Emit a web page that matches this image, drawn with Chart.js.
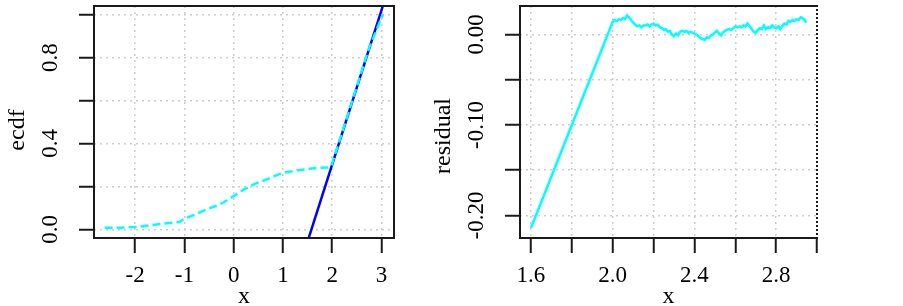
<!DOCTYPE html>
<html>
<head>
<meta charset="utf-8">
<script src="https://cdn.jsdelivr.net/npm/chart.js@4.4.1/dist/chart.umd.min.js"></script>
<style>
  html, body { margin: 0; padding: 0; background: #fff; }
  #wrap { position: relative; width: 903px; height: 306px; overflow: hidden; }
  #left { position: absolute; left: 0; top: 0; }
  #right { position: absolute; left: 420px; top: 0; }
</style>
</head>
<body>
<div id="wrap">
  <canvas id="left" width="420" height="306"></canvas>
  <canvas id="right" width="483" height="306"></canvas>
</div>
<script>
// Left panel: empirical cdf (dashed cyan) and reference cdf (blue)
var ecdfX = [-2.62, -2.3, -2.0, -1.6, -1.3, -1.1, -1.0, -0.8, -0.55, -0.35, -0.22, 0.0, 0.2, 0.43, 0.66, 0.85, 1.0, 1.25, 1.54, 1.75, 1.95, 1.99, 2.25, 2.5, 2.75, 3.03];
var ecdfY = [0.008, 0.008, 0.011, 0.022, 0.03, 0.034, 0.05, 0.068, 0.093, 0.11, 0.124, 0.155, 0.185, 0.212, 0.232, 0.25, 0.263, 0.273, 0.282, 0.287, 0.289, 0.30, 0.485, 0.665, 0.845, 1.0];
var refX = [1.5, 3.1];
var refY = [-0.057, 1.091];
var leftXTicks = [-2, -1, 0, 1, 2, 3];
var leftXLabels = ['-2', '-1', '0', '1', '2', '3'];
var leftYTicks = [0, 0.2, 0.4, 0.6, 0.8, 1.0];
var leftYLabels = ['0.0', '', '0.4', '', '0.8', ''];

// Right panel: residual
var residX = [1.60, 2.00, 2.01, 2.02, 2.03, 2.04, 2.05, 2.06, 2.07, 2.08, 2.09,
  2.10, 2.11, 2.12, 2.13, 2.14, 2.15, 2.16, 2.17, 2.18, 2.19,
  2.20, 2.21, 2.22, 2.23, 2.24, 2.25, 2.26, 2.27, 2.28, 2.29,
  2.30, 2.31, 2.32, 2.33, 2.34, 2.35, 2.36, 2.37, 2.38, 2.39,
  2.40, 2.41, 2.42, 2.43, 2.44, 2.45, 2.46, 2.47, 2.48, 2.49,
  2.50, 2.51, 2.52, 2.53, 2.54, 2.55, 2.56, 2.57, 2.58, 2.59,
  2.60, 2.61, 2.62, 2.63, 2.64, 2.65, 2.66, 2.67, 2.68, 2.69,
  2.70, 2.71, 2.72, 2.73, 2.74, 2.75, 2.76, 2.77, 2.78, 2.79,
  2.80, 2.81, 2.82, 2.83, 2.84, 2.85, 2.86, 2.87, 2.88, 2.89,
  2.90, 2.91, 2.92, 2.93, 2.94, 2.946];
var residY = [-0.214, 0.014, 0.016, 0.015, 0.017, 0.016, 0.018, 0.017, 0.021, 0.019, 0.016,
  0.013, 0.011, 0.009, 0.010, 0.008, 0.010, 0.010, 0.011, 0.009, 0.011,
  0.012, 0.010, 0.011, 0.008, 0.007, 0.005, 0.006, 0.003, 0.004, 0.000,
  -0.002, 0.001, -0.001, 0.003, 0.004, 0.003, 0.004, 0.002, 0.003, 0.002,
  0.001, 0.000, -0.002, -0.004, -0.005, -0.006, -0.003, -0.004, -0.001, 0.000,
  0.002, 0.004, 0.001, -0.001, 0.002, 0.004, 0.005, 0.006, 0.005, 0.007,
  0.009, 0.008, 0.009, 0.008, 0.010, 0.009, 0.012, 0.009, 0.006, 0.003,
  0.002, 0.005, 0.007, 0.006, 0.010, 0.006, 0.008, 0.007, 0.010, 0.008,
  0.007, 0.009, 0.006, 0.009, 0.012, 0.011, 0.015, 0.014, 0.016, 0.015,
  0.017, 0.016, 0.019, 0.018, 0.016, 0.013];
var rightXTicks = [1.6, 1.8, 2.0, 2.2, 2.4, 2.6, 2.8, 3.0];
var rightXLabels = ['1.6', '', '2.0', '', '2.4', '', '2.8', ''];
var rightYTicks = [-0.20, -0.15, -0.10, -0.05, 0.00];
var rightYLabels = ['-0.20', '', '-0.10', '', '0.00'];

var TICK_FONT = '23px "Liberation Serif", "Times New Roman", serif';
var TITLE_FONT = '24px "Liberation Serif", "Times New Roman", serif';

function points(xs, ys) {
    return xs.map(function(x, i) { return { x: x, y: ys[i] }; });
}

// Box, tick labels and axis titles, R style
var framePlugin = {
    id: 'frame',
    afterDraw: function(chart, args, opts) {
        var ctx = chart.ctx;
        var a = chart.chartArea;
        var xs = chart.scales.x, ys = chart.scales.y;
        ctx.save();
        ctx.strokeStyle = '#1a1a1a';
        ctx.lineWidth = 2;
        ctx.beginPath();
        ctx.moveTo(a.right, a.top);
        ctx.lineTo(a.left, a.top);
        ctx.lineTo(a.left, a.bottom);
        ctx.lineTo(a.right, a.bottom);
        ctx.stroke();
        if (opts.dottedRight) ctx.setLineDash([2, 2]);
        ctx.beginPath();
        ctx.moveTo(a.right, a.top - 1);
        ctx.lineTo(a.right, a.bottom + 1);
        ctx.stroke();
        ctx.setLineDash([]);

        ctx.fillStyle = '#000';
        ctx.font = TICK_FONT;
        ctx.textAlign = 'center';
        ctx.textBaseline = 'alphabetic';
        opts.xTicks.forEach(function(v, i) {
            if (opts.xLabels[i]) ctx.fillText(opts.xLabels[i], xs.getPixelForValue(v), a.bottom + 44);
        });
        opts.yTicks.forEach(function(v, i) {
            if (!opts.yLabels[i]) return;
            ctx.save();
            ctx.translate(a.left - 37, ys.getPixelForValue(v));
            ctx.rotate(-Math.PI / 2);
            ctx.fillText(opts.yLabels[i], 0, 0);
            ctx.restore();
        });

        ctx.font = TITLE_FONT;
        ctx.fillText(opts.xTitle, (a.left + a.right) / 2, a.bottom + 65);
        ctx.save();
        ctx.translate(a.left - 70, opts.yTitleY);
        ctx.rotate(-Math.PI / 2);
        ctx.fillText(opts.yTitle, 0, 0);
        ctx.restore();
        ctx.restore();
    }
};

function makeScales(xMin, xMax, yMin, yMax, xTicks, yTicks, yWidth, xHeight, skipX) {
    var grid = function(skip) {
        return {
            color: function(c) { return (skip !== undefined && c.tick && c.tick.value === skip) ? 'rgba(0,0,0,0)' : '#cccccc'; },
            lineWidth: 1.5,
            drawTicks: true,
            tickLength: 15,
            tickColor: '#1a1a1a',
            tickWidth: 2
        };
    };
    return {
        x: {
            type: 'linear', min: xMin, max: xMax,
            afterBuildTicks: function(s) { s.ticks = xTicks.map(function(v) { return { value: v }; }); },
            afterFit: function(s) { s.height = xHeight; },
            ticks: { display: false },
            grid: grid(skipX),
            border: { display: false, dash: [2, 4] }
        },
        y: {
            type: 'linear', min: yMin, max: yMax,
            afterBuildTicks: function(s) { s.ticks = yTicks.map(function(v) { return { value: v }; }); },
            afterFit: function(s) { s.width = yWidth; },
            ticks: { display: false },
            grid: grid(),
            border: { display: false, dash: [2, 4] }
        }
    };
}

var leftChart = new Chart(document.getElementById('left').getContext('2d'), {
    type: 'scatter',
    data: {
        datasets: [{
            data: points(ecdfX, ecdfY),
            showLine: true,
            borderColor: '#00ffff',
            borderWidth: 2.5,
            borderDash: [8, 4],
            pointRadius: 0,
            clip: 0
        }, {
            data: points(refX, refY),
            showLine: true,
            borderColor: '#0000ff',
            borderWidth: 2.5,
            pointRadius: 0,
            clip: 0
        }]
    },
    options: {
        responsive: false,
        animation: false,
        layout: { padding: { left: 0, top: 6, right: 26, bottom: 0 } },
        scales: makeScales(-2.8356, 3.2556, -0.04, 1.04, leftXTicks, leftYTicks, 94, 68),
        plugins: {
            legend: { display: false },
            tooltip: { enabled: false },
            frame: {
                xTicks: leftXTicks, xLabels: leftXLabels,
                yTicks: leftYTicks, yLabels: leftYLabels,
                xTitle: 'x', yTitle: 'ecdf', yTitleY: 130, dottedRight: false
            }
        }
    },
    plugins: [framePlugin]
});

var rightChart = new Chart(document.getElementById('right').getContext('2d'), {
    type: 'scatter',
    data: {
        datasets: [{
            data: points(residX, residY),
            showLine: true,
            borderColor: '#00ffff',
            borderWidth: 2.5,
            pointRadius: 0,
            clip: 0
        }]
    },
    options: {
        responsive: false,
        animation: false,
        layout: { padding: { left: 0, top: 6, right: 86, bottom: 0 } },
        scales: makeScales(1.5462, 2.9998, -0.225, 0.0315, rightXTicks, rightYTicks, 100, 68, 3.0),
        plugins: {
            legend: { display: false },
            tooltip: { enabled: false },
            frame: {
                xTicks: rightXTicks, xLabels: rightXLabels,
                yTicks: rightYTicks, yLabels: rightYLabels,
                xTitle: 'x', yTitle: 'residual', yTitleY: 136, dottedRight: true
            }
        }
    },
    plugins: [framePlugin]
});
</script>
</body>
</html>
